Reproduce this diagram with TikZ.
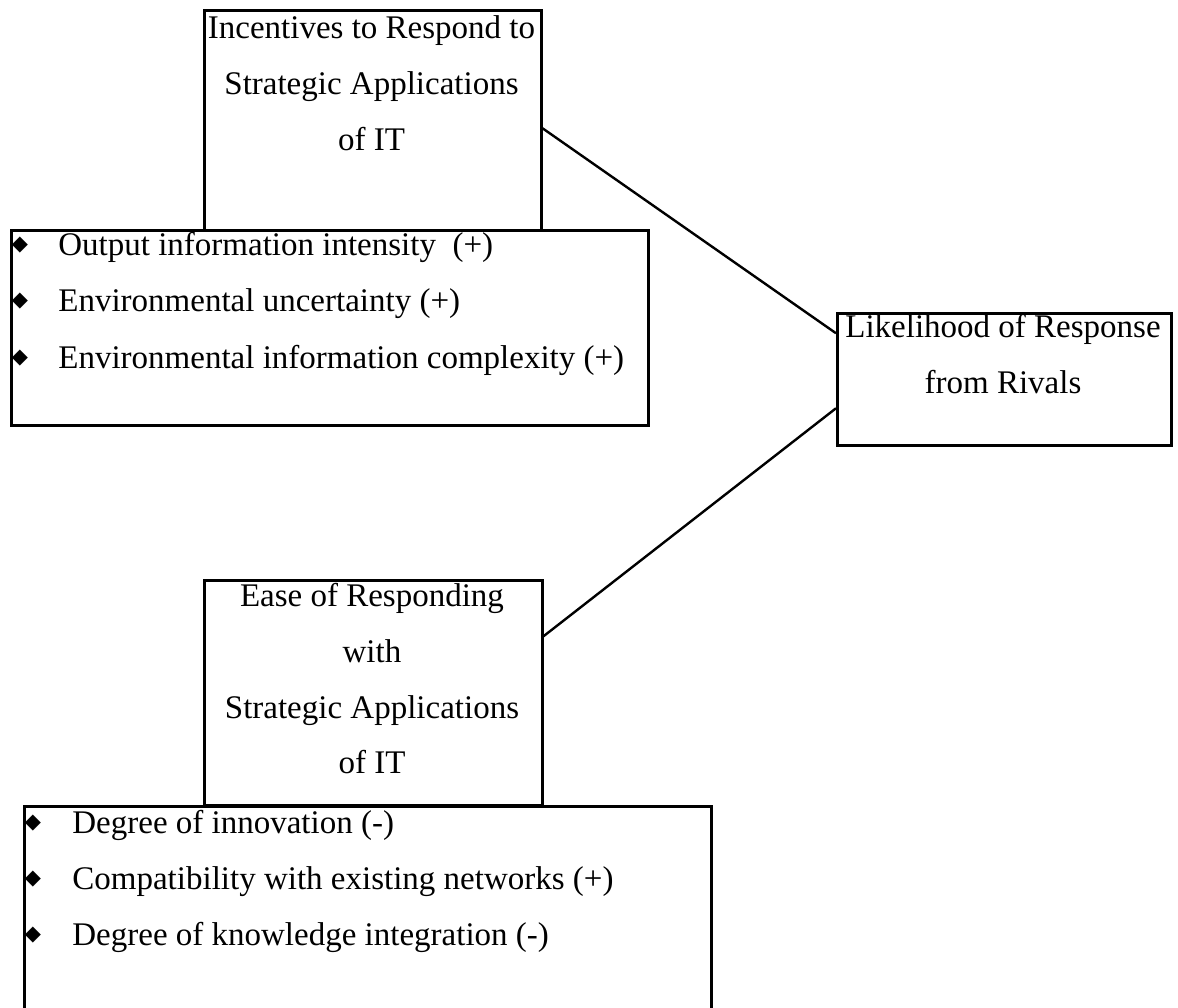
\documentclass[tikz,border=0pt]{standalone}
\usepackage{fontspec}
\setmainfont{Liberation Serif}
\newfontfamily\symfont{DejaVu Sans}
\usetikzlibrary{calc}
\begin{document}
\begin{tikzpicture}[x=0.5pt,y=-0.5pt,
  boxnode/.style={draw=black, line width=1.25pt, rectangle, inner sep=0pt, anchor=north west},
  lbl/.style={font=\fontsize{16.5}{20}\selectfont, inner sep=0pt, anchor=base},
  itm/.style={font=\fontsize{16.5}{20}\selectfont, inner sep=0pt, anchor=base west},
  bul/.style={font=\symfont\fontsize{10.5}{12}\selectfont, inner sep=0pt, anchor=center},
  conn/.style={line width=1.2pt}]
\useasboundingbox[fill=white] (0,0) rectangle (1178,1007);

% boxes
\node[boxnode, minimum width=168.5pt, minimum height=110pt] (inc) at (203,9) {};
\node[boxnode, minimum width=318.5pt, minimum height=97.5pt] (incl) at (10,229) {};
\node[boxnode, minimum width=167pt, minimum height=66pt] (lik) at (836,312) {};
\node[boxnode, minimum width=169pt, minimum height=112.5pt] (ease) at (203,579) {};
\node[boxnode, minimum width=343.5pt, minimum height=105pt] (easel) at (23,805) {};

% top title
\node[lbl] (inc1) at (371.5,38) {Incentives to Respond to};
\node[lbl] (inc2) at (371.5,94) {Strategic Applications};
\node[lbl] (inc3) at (371.5,150) {of IT};

% top list
\node[bul] (b1) at (20,245) {◆};
\node[itm] (i1) at (58,255) {Output information intensity~ (+)};
\node[bul] (b2) at (20,301.5) {◆};
\node[itm] (i2) at (58,311.5) {Environmental uncertainty (+)};
\node[bul] (b3) at (20,358) {◆};
\node[itm] (i3) at (58,368) {Environmental information complexity (+)};

% right box
\node[lbl] (lik1) at (1003,337) {Likelihood of Response};
\node[lbl] (lik2) at (1003,393) {from Rivals};

% lower title
\node[lbl] (ease1) at (372,606) {Ease of Responding};
\node[lbl] (ease2) at (372,662) {with};
\node[lbl] (ease3) at (372,718) {Strategic Applications};
\node[lbl] (ease4) at (372,773) {of IT};

% lower list
\node[bul] (c1) at (33,823) {◆};
\node[itm] (j1) at (72,833) {Degree of innovation (-)};
\node[bul] (c2) at (33,879) {◆};
\node[itm] (j2) at (72,889) {Compatibility with existing networks (+)};
\node[bul] (c3) at (33,935) {◆};
\node[itm] (j3) at (72,945) {Degree of knowledge integration (-)};

% connectors
\draw[conn] ([yshift=-4pt]inc.east) -- ([yshift=23pt]lik.west);
\draw[conn] ([yshift=28.25pt]ease.east) -- ([yshift=-14.5pt]lik.west);
\end{tikzpicture}
\end{document}
